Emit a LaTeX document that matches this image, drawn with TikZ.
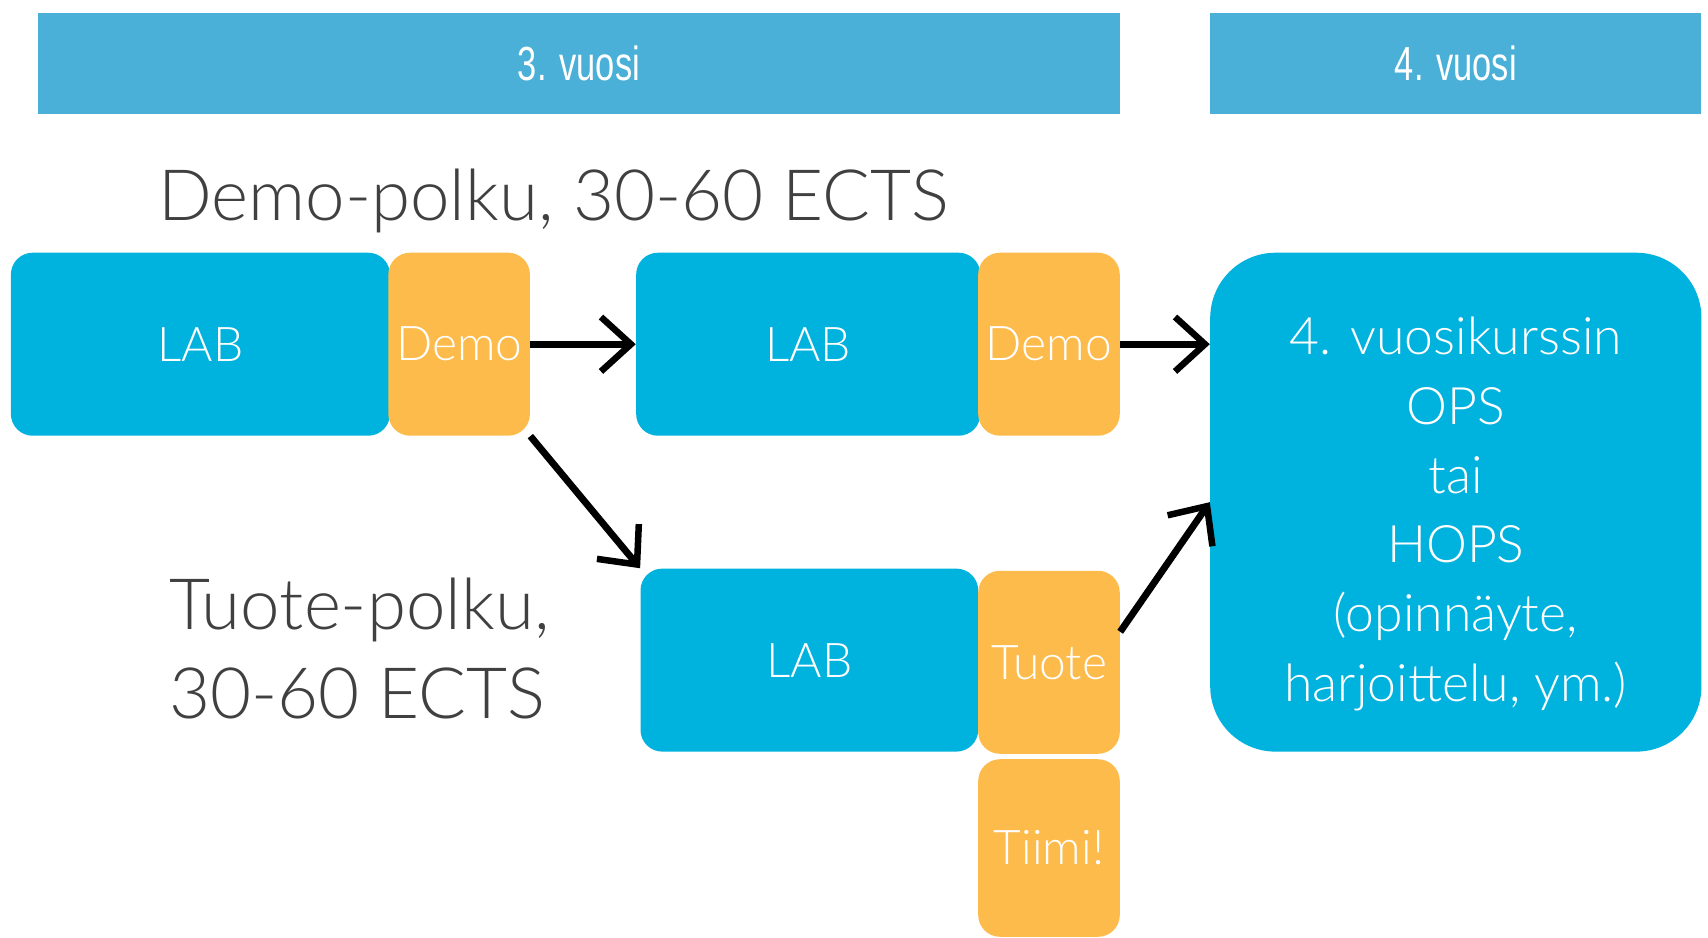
\documentclass[tikz,border=0pt]{standalone}
\usepackage{fontspec}
\setmainfont{Lato}[UprightFont=* Light]
\newfontfamily\narrowfont{Liberation Sans}[FakeStretch=0.72]
\usetikzlibrary{arrows.meta}
\definecolor{labblue}{RGB}{0,178,222}
\definecolor{demoorange}{RGB}{253,187,76}
\definecolor{barblue}{RGB}{74,176,215}
\definecolor{titlegray}{RGB}{64,64,64}

\begin{document}
\begin{tikzpicture}[x=0.2mm,y=-0.2mm,
  box/.style={fill=labblue,rounded corners=4mm,text=white,inner sep=0pt,
    minimum height=33.6mm,font=\fontsize{25}{30}\selectfont},
  tag/.style={box,fill=demoorange,minimum width=26mm},
  bar/.style={fill=barblue,text=white,minimum height=18.6mm,
    font=\narrowfont\fontsize{25}{30}\selectfont},
  polku/.style={text=titlegray,inner sep=0pt,font=\fontsize{37}{46.7}\selectfont},
  arr/.style={line width=3.6pt,-{Straight Barb[length=5.5mm,width=10mm,line width=3.4pt]}}]

\useasboundingbox (0,0) rectangle (1568,861);

\node[bar,minimum width=198.6mm] (bar3) at (531.5,58) {3. vuosi};
\node[bar,minimum width=90.2mm] (bar4) at (1336.5,58) {4. vuosi};

\node[polku,anchor=base west] (demopolku) at (145,202) {Demo-polku, 30-60 ECTS};
\node[polku,anchor=base west,align=left] (tuotepolku) at (155,660) {Tuote-polku,\\30-60 ECTS};

\node[box,minimum width=69.6mm] (lab1) at (184,316) {LAB};
\node[tag] (demo1) at (421.5,316) {Demo};
\node[box,minimum width=63.2mm] (lab2) at (742,316) {LAB};
\node[tag] (demo2) at (963,316) {Demo};
\node[box,minimum width=62mm] (lab3) at (743,606) {LAB};
\node[tag] (tuote) at (963,608) {Tuote};
\node[tag,minimum height=32.6mm] (tiimi) at (963,778.5) {Tiimi!};
\node[box,rounded corners=12mm,minimum width=90.2mm,minimum height=91.6mm,
  align=center,font=\fontsize{27}{36.2}\selectfont] (ops) at (1336.5,461)
  {\rule{0pt}{32pt}4. vuosikurssin\\OPS\\tai\\HOPS\\(opinnäyte,\\harjoittelu, ym.)};

\draw[arr] (demo1.east) -- (lab2.west);
\draw[arr] (demo1.south east) -- (lab3.north west);
\draw[arr] (demo2.east) -- (demo2.east -| ops.west);
\draw[arr] ([yshift=5.6mm]tuote.east) -- (ops.west);

\end{tikzpicture}
\end{document}
